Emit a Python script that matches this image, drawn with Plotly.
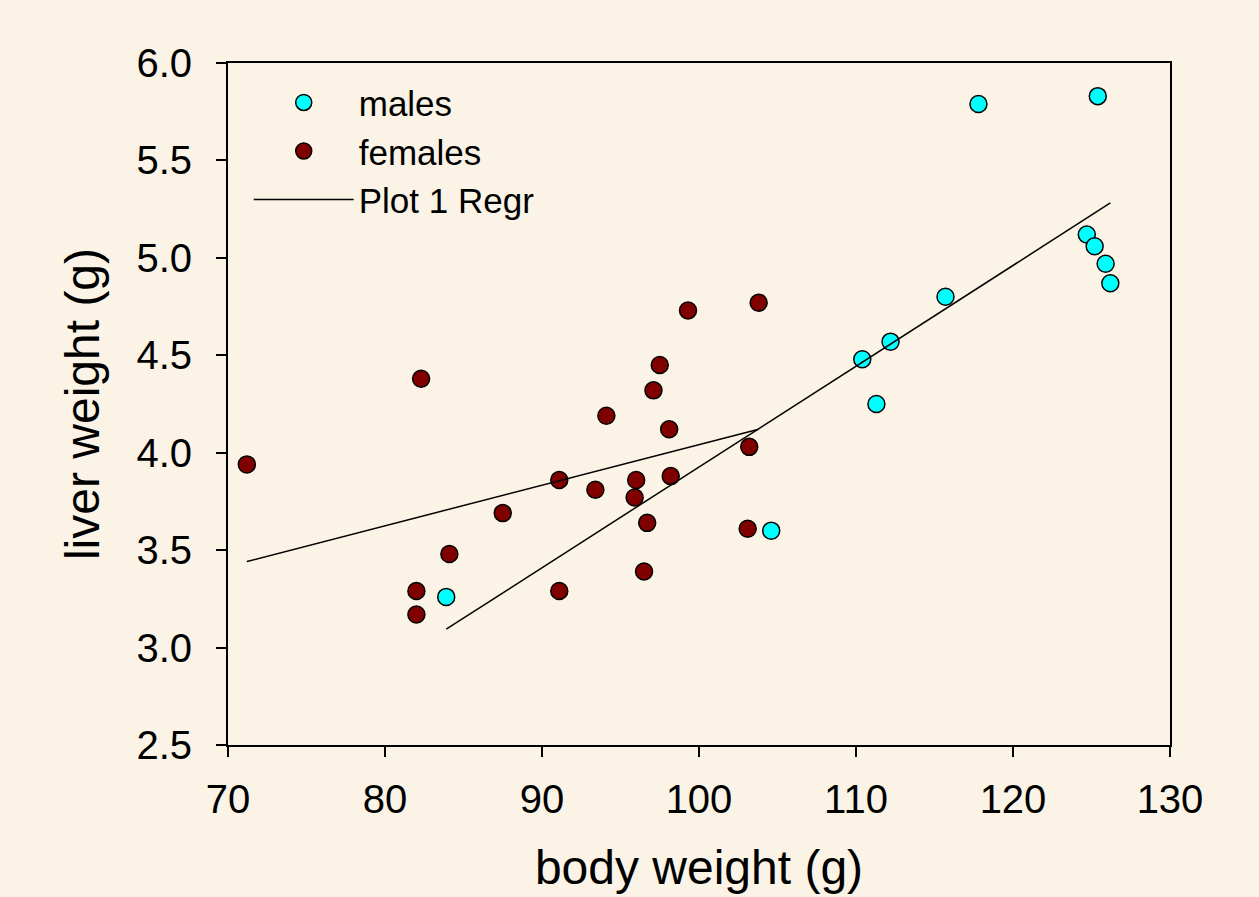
import numpy as np
import plotly.graph_objects as go

# ---- data ----
male_bw = [117.8, 125.4, 124.7, 125.2, 125.9, 126.2, 115.7, 112.2, 110.4, 111.3, 104.6, 83.9]
male_lw = [5.79, 5.83, 5.12, 5.06, 4.97, 4.87, 4.80, 4.57, 4.48, 4.25, 3.60, 3.26]

female_bw = [71.2, 82.3, 82.0, 82.0, 84.1, 87.5, 91.1, 91.1, 93.4, 94.1, 96.0, 95.9,
             96.7, 96.5, 97.1, 97.5, 98.1, 98.2, 99.3, 103.8, 103.2, 103.1]
female_lw = [3.94, 4.38, 3.29, 3.17, 3.48, 3.69, 3.86, 3.29, 3.81, 4.19, 3.86, 3.77,
             3.64, 3.39, 4.32, 4.45, 4.12, 3.88, 4.73, 4.77, 4.03, 3.61]

x_ticks = [70, 80, 90, 100, 110, 120, 130]
y_ticks = [2.5, 3.0, 3.5, 4.0, 4.5, 5.0, 5.5, 6.0]


def regression(xs, ys):
    xs = np.asarray(xs, dtype=float)
    ys = np.asarray(ys, dtype=float)
    slope, intercept = np.polyfit(xs, ys, 1)
    xr = np.array([xs.min(), xs.max()])
    return xr, intercept + slope * xr


fx, fy = regression(female_bw, female_lw)
mx, my = regression(male_bw, male_lw)

FONT = "Liberation Sans, Arial, sans-serif"

fig = go.Figure()
fig.add_trace(go.Scatter(
    x=male_bw, y=male_lw, mode="markers", name="males",
    marker=dict(color="#00FFFF", size=17, line=dict(color="black", width=1.5)),
))
fig.add_trace(go.Scatter(
    x=female_bw, y=female_lw, mode="markers", name="females",
    marker=dict(color="#800000", size=17, line=dict(color="black", width=1.5)),
))
fig.add_trace(go.Scatter(
    x=list(fx), y=list(fy), mode="lines", name="Plot 1 Regr",
    line=dict(color="black", width=1.5), legendgroup="regr",
))
fig.add_trace(go.Scatter(
    x=list(mx), y=list(my), mode="lines", name="Plot 1 Regr",
    line=dict(color="black", width=1.5), legendgroup="regr", showlegend=False,
))

fig.update_layout(
    width=1259, height=897,
    margin=dict(l=228, r=89, t=63, b=152),
    paper_bgcolor="#FAF3E6",
    plot_bgcolor="rgba(0,0,0,0)",
    font=dict(family=FONT, color="black", size=40),
    showlegend=True,
    legend=dict(
        x=0.022, y=0.985, xanchor="left", yanchor="top",
        bgcolor="rgba(0,0,0,0)", borderwidth=0,
        font=dict(size=35, family=FONT),
        itemwidth=100, tracegroupgap=0,
    ),
    xaxis=dict(
        range=[70, 130], tickvals=x_ticks, ticktext=[str(v) for v in x_ticks],
        showgrid=False, zeroline=False,
        showline=True, linecolor="black", linewidth=2, mirror=True,
        ticks="outside", ticklen=10, tickwidth=2, tickcolor="black",
        tickfont=dict(size=40), ticklabelstandoff=8,
        title=dict(text="body weight (g)", font=dict(size=48), standoff=30),
    ),
    yaxis=dict(
        range=[2.5, 6.0], tickvals=y_ticks, ticktext=[f"{v:.1f}" for v in y_ticks],
        showgrid=False, zeroline=False,
        showline=True, linecolor="black", linewidth=2, mirror=True,
        ticks="outside", ticklen=10, tickwidth=2, tickcolor="black",
        tickfont=dict(size=40), ticklabelstandoff=16,
        title=dict(text="liver weight (g)", font=dict(size=48), standoff=22),
    ),
)

fig.write_html("out.html")
